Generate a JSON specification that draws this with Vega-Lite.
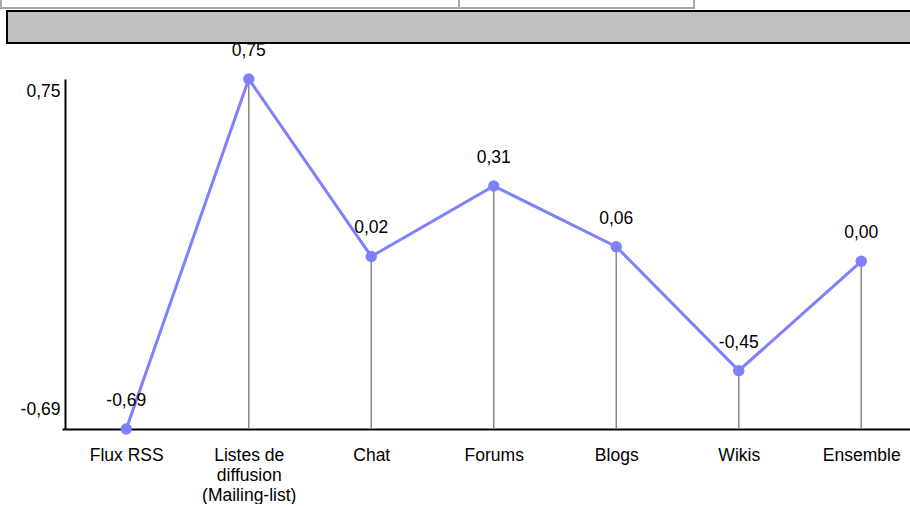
{
  "$schema": "https://vega.github.io/schema/vega-lite/v6.json",
  "padding": {"left": 0, "right": 0, "top": -2, "bottom": 0},
  "background": "white",
  "config": {
    "locale": {"number": {"decimal": ",", "thousands": ".", "grouping": [3], "currency": ["", " €"], "minus": "-"}},
    "font": "Liberation Sans"
  },
  "bounds": "flush",
  "spacing": 80,
  "vconcat": [
    {
      "bounds": "flush",
      "spacing": 12,
      "vconcat": [
        {
          "bounds": "flush",
          "spacing": 0,
          "hconcat": [
            {"width": 458, "height": 9, "data": {"values": [{}]}, "mark": {"type": "point", "opacity": 0}, "view": {"fill": "white", "stroke": "#a8a8a8", "strokeWidth": 2}},
            {"width": 235, "height": 9, "data": {"values": [{}]}, "mark": {"type": "point", "opacity": 0}, "view": {"fill": "white", "stroke": "#a8a8a8", "strokeWidth": 2}}
          ]
        },
        {
          "bounds": "flush",
          "spacing": 0,
          "hconcat": [
            {"width": 6, "height": 32, "data": {"values": [{}]}, "mark": {"type": "point", "opacity": 0}, "view": {"stroke": null}},
            {"width": 910, "height": 32, "data": {"values": [{}]}, "mark": {"type": "point", "opacity": 0}, "view": {"fill": "#c0c0c0", "stroke": "black", "strokeWidth": 2}}
          ]
        }
      ]
    },
    {
      "bounds": "flush",
      "spacing": 0,
      "hconcat": [
        {"width": 64, "height": 350, "data": {"values": [{}]}, "mark": {"type": "point", "opacity": 0}, "view": {"stroke": null}},
        {
          "width": 857.5,
          "height": 350,
          "view": {"stroke": null},
          "data": {"values": [
            {"cat": "Flux RSS", "value": -0.69},
            {"cat": "Listes de diffusion (Mailing-list)", "value": 0.75},
            {"cat": "Chat", "value": 0.02},
            {"cat": "Forums", "value": 0.31},
            {"cat": "Blogs", "value": 0.06},
            {"cat": "Wikis", "value": -0.45},
            {"cat": "Ensemble", "value": 0.0}
          ]},
          "encoding": {
            "x": {
              "field": "cat", "type": "nominal", "sort": null,
              "scale": {"type": "point", "padding": 0.5},
              "axis": {
                "title": null, "labelAngle": 0, "ticks": false, "grid": false,
                "domainColor": "black", "domainWidth": 2,
                "labelFontSize": 17.5, "labelColor": "black", "labelPadding": 17,
                "labelLineHeight": 20, "labelLimit": 0,
                "labelExpr": "datum.value == 'Listes de diffusion (Mailing-list)' ? ['Listes de', 'diffusion', '(Mailing-list)'] : datum.value"
              }
            },
            "y": {
              "field": "value", "type": "quantitative",
              "scale": {"domain": [-0.69, 0.75], "nice": false, "zero": false},
              "axis": {
                "title": null, "values": [-0.69, 0.75], "format": ".2f", "grid": false,
                "ticks": true, "tickSize": 3, "tickColor": "black", "tickWidth": 2,
                "tickOpacity": {"expr": "datum.value < 0 ? 1 : 0"},
                "domainColor": "black", "domainWidth": 2,
                "labelFontSize": 17.5, "labelColor": "black", "labelPadding": 2,
                "labelBaseline": "middle",
                "labelOffset": {"expr": "datum.value > 0 ? 12 : -20"}
              }
            }
          },
          "layer": [
            {"mark": {"type": "rule", "color": "#888888", "strokeWidth": 1.5}, "encoding": {"y2": {"datum": -0.69}}},
            {"mark": {"type": "line", "color": "#8080ff", "strokeWidth": 3}, "encoding": {}},
            {"mark": {"type": "point", "filled": true, "size": 130, "color": "#8080ff", "opacity": 1}, "encoding": {}},
            {"mark": {"type": "text", "dy": -28, "fontSize": 17.5, "color": "black", "baseline": "middle"}, "encoding": {"text": {"field": "value", "type": "quantitative", "format": ".2f"}}}
          ]
        }
      ]
    }
  ]
}
